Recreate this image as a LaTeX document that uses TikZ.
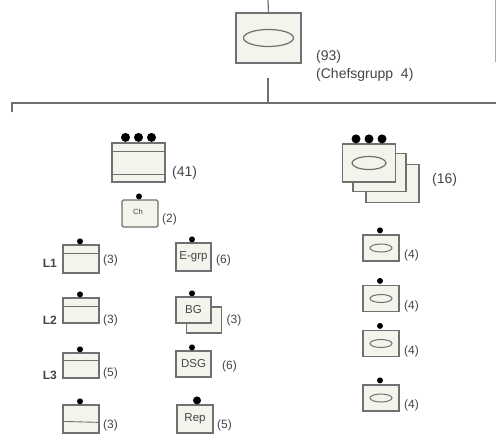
\documentclass[tikz,border=0pt]{standalone}
\usepackage{fontspec}
\setmainfont{Liberation Sans}
\usetikzlibrary{calc}
\definecolor{boxfill}{HTML}{F3F5EC}
\definecolor{boxline}{HTML}{707070}
\definecolor{txt}{HTML}{454545}
\newcommand{\Wd}{36pt}
\newcommand{\Ht}{27pt}
\tikzset{Unit/.style={
    inner sep=0pt,
    minimum width=\Wd,
    minimum height=\Ht,
    draw=boxline,
    fill=boxfill,
    line width=1.2pt,
    align=center,
    text=txt,
    font=\fontsize{11.5}{12}\selectfont,
    }
}

\begin{document}
\begin{tikzpicture}[x=1pt, y=1pt, line width=1.2pt,
    Dot/.style={circle, fill=black, inner sep=0pt, minimum size=6pt},
    BigDot/.style={circle, fill=black, inner sep=0pt, minimum size=9pt},
    Count/.style={anchor=west, inner sep=0pt, text=txt, font=\fontsize{12}{13}\selectfont},
    Head/.style={anchor=west, inner sep=0pt, text=txt, font=\fontsize{14}{15}\selectfont},
    Level/.style={anchor=east, inner sep=0pt, text=txt, font=\bfseries\fontsize{12}{13}\selectfont},
]
\useasboundingbox (0,0) rectangle (496,-439);

% top: chef group
\node [Unit, minimum width=65pt, minimum height=50pt] (chef) at (268.5,-38) {};
\draw [boxline] (chef.center) ellipse (25pt and 8.5pt);
\node [Head] (chefn) at ($(chef.east)+(14,-19)$) {(93)};
\node [Head] (chefg) at ($(chef.east)+(14,-37)$) {(Chefsgrupp\ \ 4)};
\coordinate (in) at (268,0);
\coordinate (out) at (268,-78);
\coordinate (bar) at (268,-103);
\coordinate (barl) at (12,-103);
\coordinate (barr) at (496,-103);
\coordinate (tick) at (12,-112);
\coordinate (edget) at (495,0);
\coordinate (edgeb) at (495,-62);
\draw [boxline] (in) -- (chef.north);
\draw [boxline] (out) -- (bar);
\draw [boxline] (tick) -- (barl) -- (barr);
\draw [boxline!60, line width=1pt] (edget) -- (edgeb);

% left group
\node [Unit, minimum width=53pt, minimum height=39pt] (lg) at (138.5,-162.5) {};
\draw [boxline] ($(lg.north west)+(0,-9)$) -- ($(lg.north east)+(0,-9)$);
\draw [boxline] ($(lg.south west)+(0,8)$) -- ($(lg.south east)+(0,8)$);
\foreach \dx in {-13,0,13}
  \node [BigDot] at ($(lg.north)+(\dx,5)$) {};
\node [Head] at ($(lg.east)+(6,-10)$) {(41)};

\node [Unit, rounded corners=1.5pt, font=\fontsize{7.5}{8}\selectfont] (ch) at (140,-213.5) {\raisebox{3pt}{Ch\ \ }};
\node [Dot] at ($(ch.north)+(-1,3)$) {};
\node [Count] at ($(ch.east)+(3,-5.5)$) {(2)};

% left column
\node [Unit, minimum height=28pt] (l1) at (81,-259) {};
\node [Unit, minimum height=25pt] (l2) at (81,-310.5) {};
\node [Unit, minimum height=25pt] (l3) at (81,-365.5) {};
\node [Unit, minimum height=28pt] (l4) at (81,-419) {};
\draw [boxline] ($(l1.north west)+(0,-9)$) -- ($(l1.north east)+(0,-9)$);
\draw [boxline] ($(l2.north west)+(0,-9)$) -- ($(l2.north east)+(0,-9)$);
\draw [boxline] ($(l3.north west)+(0,-8)$) -- ($(l3.north east)+(0,-8)$);
\draw [boxline, line width=0.9pt] ($(l4.north west)+(0,-17)$) -- ($(l4.north east)+(0,-18)$);
\foreach \n in {l1,l2,l3,l4}
  \node [Dot] at ($(\n.north)+(-1,3)$) {};
\node [Level] at ($(l1.west)+(-5,-4)$) {L1};
\node [Level] at ($(l2.west)+(-5,-9.5)$) {L2};
\node [Level] at ($(l3.west)+(-5,-9.5)$) {L3};
\node [Count] at ($(l1.east)+(3,-1)$) {(3)};
\node [Count] at ($(l2.east)+(3,-9.5)$) {(3)};
\node [Count] at ($(l3.east)+(3,-7.5)$) {(5)};
\node [Count] at ($(l4.east)+(3,-6)$) {(3)};

% right column
\node [Unit, minimum width=35pt, minimum height=28pt] (eg) at (193.5,-257) {E-grp};
\node [Unit, minimum width=35pt, minimum height=26pt] (bgb) at (204,-320) {};
\node [Unit, minimum width=35pt, minimum height=26pt] (bg) at (193.5,-310) {BG};
\node [Unit, minimum width=35pt, minimum height=26pt] (dsg) at (193.5,-364) {DSG};
\node [Unit, minimum width=36pt, minimum height=28pt] (rep) at (195,-419) {Rep};
\foreach \n in {eg,bg,dsg}
  \node [Dot] at ($(\n.north)+(-1.5,3)$) {};
\node [Dot, minimum size=8pt] at ($(rep.north)+(2,4)$) {};
\node [Count] at ($(eg.east)+(4,-3)$) {(6)};
\node [Count] at ($(bgb.east)+(4,0)$) {(3)};
\node [Count] at ($(dsg.east)+(10,-2)$) {(6)};
\node [Count] at ($(rep.east)+(3,-6)$) {(5)};

% right group
\node [Unit, minimum width=53pt, minimum height=38pt] (rgc) at (392.5,-183.5) {};
\node [Unit, minimum width=53pt, minimum height=38pt] (rgb) at (379.5,-172.5) {};
\node [Unit, minimum width=53pt, minimum height=38pt] (rg) at (369,-163) {};
\draw [boxline] (rg.center) ellipse (17pt and 6.5pt);
\foreach \dx in {-13,0,13}
  \node [BigDot] at ($(rg.north)+(\dx,4.5)$) {};
\node [Head] at ($(rgc.east)+(12,3.5)$) {(16)};

\node [Unit, minimum height=26pt] (r1) at (381,-248) {};
\node [Unit, minimum height=26pt] (r2) at (381,-298.5) {};
\node [Unit, minimum height=26pt] (r3) at (381,-343.5) {};
\node [Unit, minimum height=26pt] (r4) at (381,-398) {};
\foreach \n in {r1,r2,r3,r4} {
  \draw [boxline, line width=1pt] (\n.center) ellipse (11pt and 4pt);
  \node [Dot] at ($(\n.north)+(-1,4)$) {};
  \node [Count] at ($(\n.east)+(4,-7.5)$) {(4)};
}
\end{tikzpicture}
\end{document}
